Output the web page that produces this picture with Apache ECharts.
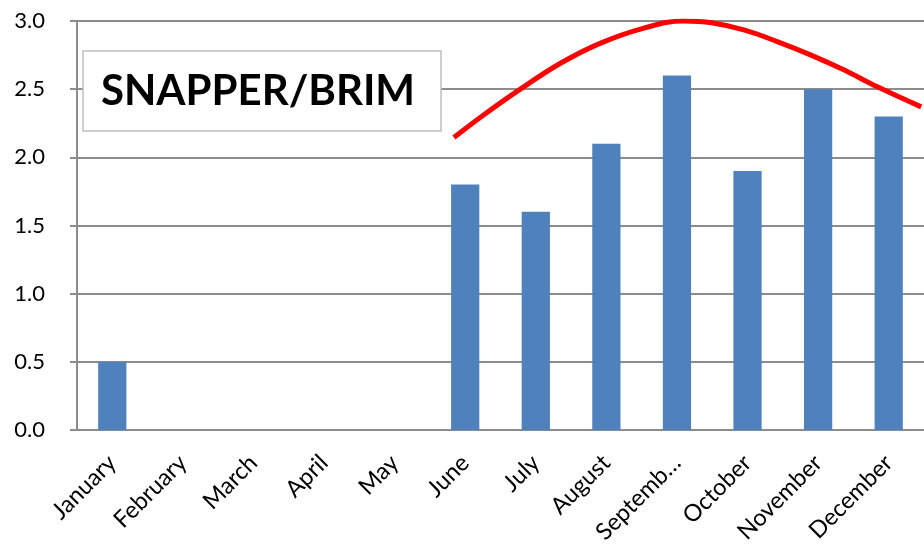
<!DOCTYPE html>
<html>
<head>
<meta charset="utf-8">
<script src="https://cdn.jsdelivr.net/npm/echarts@6/dist/echarts.min.js"></script>
<style>
html, body { margin: 0; padding: 0; background: #fff; }
#main { width: 924px; height: 548px; }
</style>
</head>
<body>
<div id="main"></div>
<script>
var months = ['January', 'February', 'March', 'April', 'May', 'June', 'July',
  'August', 'Septemb…', 'October', 'November', 'December']
var catch_ = [0.5, 0, 0, 0, 0, 1.8, 1.6, 2.1, 2.6, 1.9, 2.5, 2.3]
// trend curve, x in category units (0 = left edge of January)
var trendX = [5.34, 5.76, 6.28, 6.85, 7.41, 8.02, 8.59, 8.99, 9.46, 9.93, 10.40, 10.87, 11.34, 11.96]
var trendY = [2.145, 2.31, 2.50, 2.69, 2.836, 2.946, 3.0, 2.987, 2.933, 2.847, 2.75, 2.64, 2.517, 2.37]

var chart = echarts.init(document.getElementById('main'))
var trend = trendX.map(function (x, i) { return [x, trendY[i]] })
var axisGray = '#8c8c8c'

var option = {
  animation: false,
  textStyle: { fontFamily: 'Lato' },
  grid: { left: 77, right: -3, top: 21, bottom: 118 },
  xAxis: [
    {
      type: 'category',
      data: months,
      axisLine: { lineStyle: { color: axisGray, width: 2 } },
      axisTick: { length: 7, lineStyle: { color: axisGray, width: 2 } },
      axisLabel: { rotate: 45, margin: 29, fontSize: 23.5, color: '#000', interval: 0 }
    },
    { type: 'value', min: 0, max: 12, show: false }
  ],
  yAxis: {
    type: 'value',
    min: 0,
    max: 3,
    interval: 0.5,
    axisLine: { show: true, lineStyle: { color: axisGray, width: 2 } },
    axisTick: { show: true, length: 7, lineStyle: { color: axisGray, width: 2 } },
    splitLine: { lineStyle: { color: axisGray, width: 2 } },
    axisLabel: {
      fontSize: 22,
      color: '#000',
      margin: 32,
      formatter: function (v) { return v.toFixed(1) }
    }
  },
  series: [
    {
      type: 'bar',
      data: catch_,
      barWidth: '40%',
      itemStyle: { color: '#4f81bd' }
    },
    {
      type: 'line',
      xAxisIndex: 1,
      data: trend,
      smooth: 0.4,
      symbol: 'none',
      lineStyle: { color: '#ff0000', width: 5 },
      z: 5
    }
  ],
  graphic: [
    {
      type: 'rect',
      shape: { x: 83, y: 51, width: 358, height: 80 },
      style: { fill: '#fff', stroke: '#bfbfbf', lineWidth: 1.5 },
      z: 10
    },
    {
      type: 'text',
      x: 258,
      y: 91,
      style: {
        text: 'SNAPPER/BRIM',
        font: 'bold 42px Lato',
        fill: '#000',
        textAlign: 'center',
        textVerticalAlign: 'middle'
      },
      z: 11
    }
  ]
}

chart.setOption(option)
</script>
</body>
</html>
